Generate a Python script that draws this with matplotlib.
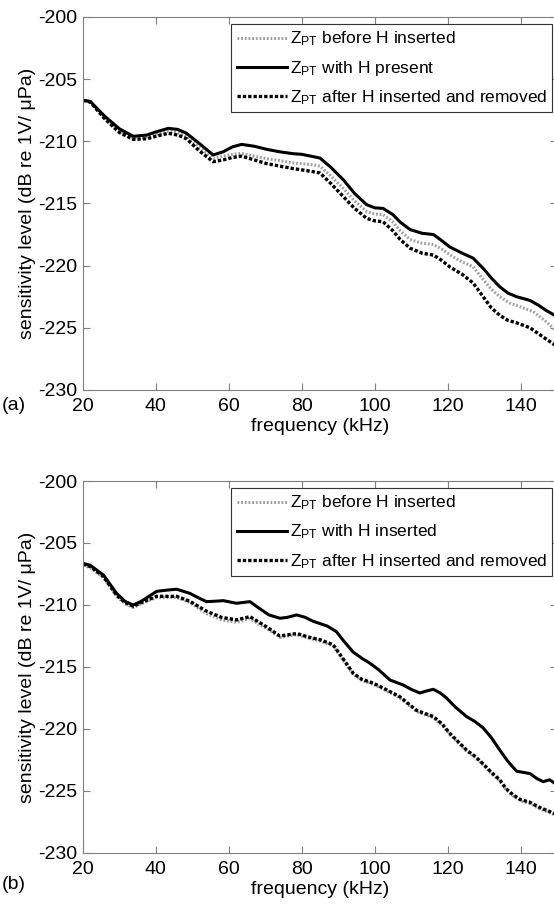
import numpy as np
import matplotlib.pyplot as plt

plt.rcParams['font.family'] = ['Liberation Sans', 'DejaVu Sans']
plt.rcParams['mathtext.fontset'] = 'custom'
plt.rcParams['mathtext.rm'] = 'Liberation Sans'
plt.rcParams['mathtext.it'] = 'Liberation Sans'
plt.rcParams['axes.unicode_minus'] = False

# --- (a) datos ---
f_a_with = [20, 22, 26, 30, 33.8, 37.5, 40, 43.4, 46, 48.4, 52, 55.7, 58.5, 61, 63.5, 67, 70.4, 74,
            77.7, 80, 83.2, 85, 88, 91.4, 94.5, 97.8, 100, 102.3, 105, 107, 109.7, 113, 116.1, 118,
            120.6, 124, 127, 130, 132, 134.3, 136.5, 138.9, 142.6, 145, 147, 150]
a_with = [-206.7, -206.8, -208.0, -209.0, -209.6, -209.5, -209.25, -208.96, -209.05, -209.36, -210.2,
          -211.1, -210.84, -210.45, -210.25, -210.4, -210.65, -210.85, -211.0, -211.05, -211.24, -211.35,
          -212.1, -213.1, -214.2, -215.1, -215.35, -215.4, -215.9, -216.5, -217.1, -217.4, -217.5, -217.9,
          -218.5, -219.0, -219.4, -220.3, -221.0, -221.7, -222.2, -222.5, -222.8, -223.2, -223.6, -224.1]

f_a_before = [20, 22, 26, 30, 33.8, 37.5, 40, 43.4, 46, 48.4, 52, 55.7, 58.5, 61, 63.5, 67, 70.4, 74,
              77.7, 80, 83.2, 85, 88, 91.4, 94.5, 97.8, 100, 102.3, 105, 107, 109.7, 113, 116.1, 118.5,
              121.5, 124, 127, 130, 132, 134.3, 137, 139.8, 143.5, 147, 150]
a_before = [-206.7, -206.8, -208.1, -209.2, -209.75, -209.65, -209.45, -209.2, -209.3, -209.6, -210.5,
            -211.37, -211.2, -211.05, -210.97, -211.2, -211.4, -211.55, -211.75, -211.8, -211.9, -212.0,
            -212.8, -213.8, -214.8, -215.66, -215.85, -215.9, -216.5, -217.2, -217.9, -218.2, -218.3,
            -218.7, -219.3, -219.7, -220.1, -221.2, -221.9, -222.5, -223.0, -223.3, -223.7, -224.5, -225.3]

f_a_after = [20, 22, 26, 30, 33.8, 37.5, 40, 43.4, 46, 48.4, 52, 55.7, 58.5, 61, 63.5, 67, 70.4, 74,
             77.7, 80, 83.2, 85, 88, 91.4, 94.5, 97.8, 100, 102.3, 105, 107, 109.7, 113, 116.1, 118,
             120.6, 124, 127, 130, 132, 134.3, 136.5, 138.9, 142.6, 146, 150]
a_after = [-206.7, -206.85, -208.2, -209.3, -209.85, -209.8, -209.6, -209.36, -209.5, -209.8, -210.8,
           -211.64, -211.5, -211.3, -211.2, -211.5, -211.8, -212.0, -212.2, -212.3, -212.45, -212.55,
           -213.4, -214.45, -215.4, -216.2, -216.4, -216.47, -217.2, -217.9, -218.6, -219.0, -219.15,
           -219.5, -220.1, -220.7, -221.4, -222.6, -223.4, -224.0, -224.4, -224.6, -225.0, -225.7, -226.5]

# --- (b) datos ---
f_b_with = [20, 22, 25.6, 29.2, 31.5, 33.8, 36, 40.2, 43, 45.7, 49.3, 51.5, 53.9, 56, 58.5, 62.1, 65.8,
            68, 71, 74, 76, 78.6, 81, 83, 85, 87, 89.5, 91.5, 94.1, 96.5, 98.7, 101, 104.2, 107.8, 110,
            112.4, 114, 116.1, 118, 119.7, 122, 125.2, 127.5, 129.7, 132, 134.3, 136.5, 138.9, 142.6,
            144.5, 146.2, 148, 150]
b_with = [-206.64, -206.8, -207.58, -209.06, -209.7, -210.0, -209.7, -208.9, -208.8, -208.73, -209.06,
          -209.4, -209.73, -209.7, -209.65, -209.86, -209.73, -210.2, -210.8, -211.07, -211.0, -210.8,
          -211.0, -211.3, -211.5, -211.7, -212.15, -212.9, -213.8, -214.3, -214.7, -215.2, -216.05,
          -216.45, -216.8, -217.1, -216.95, -216.8, -217.1, -217.5, -218.2, -219.0, -219.4, -219.9,
          -220.7, -221.7, -222.6, -223.4, -223.6, -224.0, -224.25, -224.1, -224.5]

f_b_after = [20, 22, 25.6, 29.2, 31.5, 33.8, 36, 40.2, 45.7, 49.3, 53.9, 58, 62.1, 65.8, 70, 74, 78.6,
             82, 85, 88.6, 91, 94.1, 96.5, 99.6, 103, 106.9, 109, 111.5, 116.1, 118.5, 120.6, 125.2,
             127.5, 129.7, 132, 134.3, 136, 137.9, 140, 142.5, 145, 147.5, 150]
b_after = [-206.7, -206.9, -207.7, -209.2, -209.8, -210.1, -209.8, -209.3, -209.3, -209.7, -210.5,
           -211.0, -211.2, -210.94, -211.7, -212.5, -212.3, -212.6, -212.8, -213.2, -214.2, -215.5,
           -216.0, -216.3, -216.8, -217.4, -217.9, -218.5, -219.0, -219.6, -220.35, -221.7, -222.2,
           -222.8, -223.5, -224.1, -224.8, -225.3, -225.7, -225.9, -226.3, -226.6, -226.9]

f_b_before = f_b_after
b_before = [-206.8, -207.0, -207.8, -209.3, -209.9, -210.2, -209.9, -209.4, -209.4, -209.8, -210.7,
            -211.2, -211.4, -211.1, -211.85, -212.6, -212.4, -212.7, -212.9, -213.3, -214.3, -215.6,
            -216.1, -216.4, -216.9, -217.5, -218.0, -218.6, -219.1, -219.7, -220.45, -221.8, -222.3,
            -222.9, -223.6, -224.2, -224.9, -225.4, -225.8, -226.0, -226.4, -226.7, -227.0]

lbl_before = r'Z$_{\mathrm{PT}}$ before H inserted'
lbl_after = r'Z$_{\mathrm{PT}}$ after H inserted and removed'

fig = plt.figure(figsize=(5.54, 9.05), dpi=100)
ax1 = fig.add_axes([0.1498, 0.5691, 0.8556, 0.4122])
ax2 = fig.add_axes([0.1498, 0.0575, 0.8556, 0.4110])

paneles = [
    (ax1, f_a_before, a_before, f_a_with, a_with, f_a_after, a_after,
     r'Z$_{\mathrm{PT}}$ with H present', '(a)', 1 - 405 / 905),
    (ax2, f_b_before, b_before, f_b_with, b_with, f_b_after, b_after,
     r'Z$_{\mathrm{PT}}$ with H inserted', '(b)', 1 - 884 / 905),
]

for ax, fb, yb, fw, yw, fa, ya, lbl_with, letra, ypos in paneles:
    ax.plot(fb, yb, color='#a0a0a0', lw=2.2, ls=(0, (0.6, 0.6)), label=lbl_before)
    ax.plot(fw, yw, color='black', lw=2.2, ls='-', label=lbl_with)
    ax.plot(fa, ya, color='black', lw=2.4, ls=(0, (1.0, 0.6)), label=lbl_after)
    ax.set_xlim(20, 150)
    ax.set_ylim(-230, -200)
    ax.set_xticks([20, 40, 60, 80, 100, 120, 140])
    ax.set_yticks([-230, -225, -220, -215, -210, -205, -200])
    ax.tick_params(direction='in', top=True, right=True, labelsize=14, length=5,
                   color='#808080', pad=4)
    ax.tick_params(axis='x', pad=6)
    for s in ax.spines.values():
        s.set_color('#808080')
    ax.set_xlabel('frequency (kHz)', fontsize=14, labelpad=2)
    ax.set_ylabel('sensitivity level (dB re 1V/ μPa)', fontsize=14, labelpad=2)
    leg = ax.legend(loc='upper right', bbox_to_anchor=(0.99, 0.98), fontsize=12.5,
                    fancybox=False, framealpha=1, edgecolor='#333333',
                    handlelength=2.9, handletextpad=0.15, labelspacing=0.6,
                    borderpad=0.3, borderaxespad=0)
    leg.get_frame().set_linewidth(0.8)
    fig.text(0.003, ypos, letra, fontsize=14, va='center', ha='left')

plt.savefig('out.png', dpi=100)
